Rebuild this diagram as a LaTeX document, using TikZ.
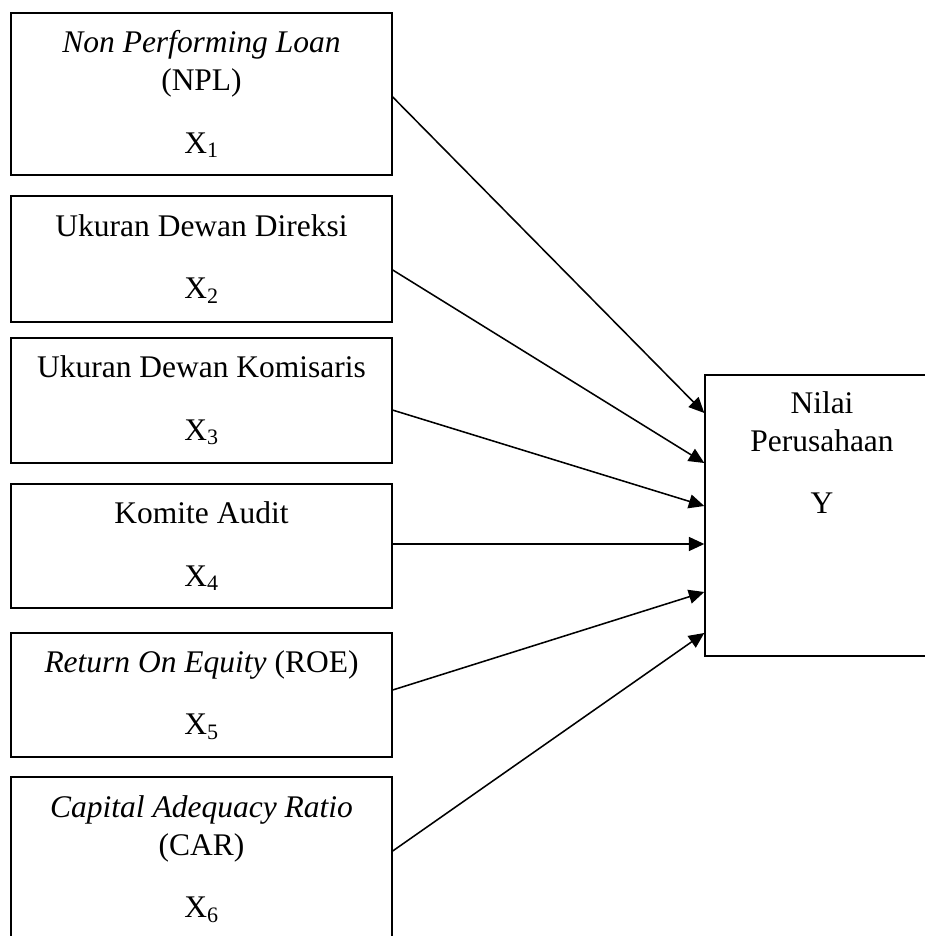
\documentclass[tikz,border=0pt]{standalone}
\usepackage{fontspec}
\setmainfont{Liberation Serif}
\usetikzlibrary{positioning,arrows.meta}
\tikzset{
	kotak/.style={draw,line width=1pt,minimum width=9.525cm,inner sep=0pt,align=center,font=\fontsize{22.4}{27}\selectfont},
	panah/.style={-{Triangle[length=11pt,width=10pt]},line width=1.1pt}
}
\begin{document}
\begin{tikzpicture}
	\useasboundingbox (0,0) rectangle (23.125,23.4);
	\clip (0,0) rectangle (23.125,23.4);%Rand

	\node[kotak,minimum height=4.05cm] (x1) at (5.0375,21.05) {\textit{Non Performing Loan}\\(NPL)\\[17.6pt]X\textsubscript{1}};
	\node[kotak,minimum height=3.15cm] (x2) at (5.0375,16.925) {Ukuran Dewan Direksi\\[17.6pt]X\textsubscript{2}};
	\node[kotak,minimum height=3.125cm] (x3) at (5.0375,13.3875) {Ukuran Dewan Komisaris\\[17.6pt]X\textsubscript{3}};
	\node[kotak,minimum height=3.1cm] (x4) at (5.0375,9.75) {Komite Audit\\[17.6pt]X\textsubscript{4}};
	\node[kotak,minimum height=3.1cm] (x5) at (5.0375,6.025) {\textit{Return On Equity} (ROE)\\[17.6pt]X\textsubscript{5}};
	\node[kotak,minimum height=4.1cm] (x6) at (5.0375,1.925) {\textit{Capital Adequacy Ratio}\\(CAR)\\[17.6pt]X\textsubscript{6}};%unten abgeschnitten

	\node[kotak,minimum width=5.85cm,minimum height=7.025cm] (y) at (20.55,10.5125) {};%rechts abgeschnitten
	\node[inner sep=0pt,align=center,font=\fontsize{22.4}{27}\selectfont,below=0.42cm of y.north] (ytext) {Nilai\\Perusahaan\\[17.6pt]Y};

	\foreach \i/\s/\e in {1/-0.075/2.5625, 2/-0.275/1.3125, 3/-0.24/0.2375, 4/0.05/-0.7125, 5/0.125/-1.9125, 6/0.2/-2.9375}
		\draw[panah] ([yshift=\s cm]x\i.east) -- ([yshift=\e cm]y.west);
\end{tikzpicture}
\end{document}
